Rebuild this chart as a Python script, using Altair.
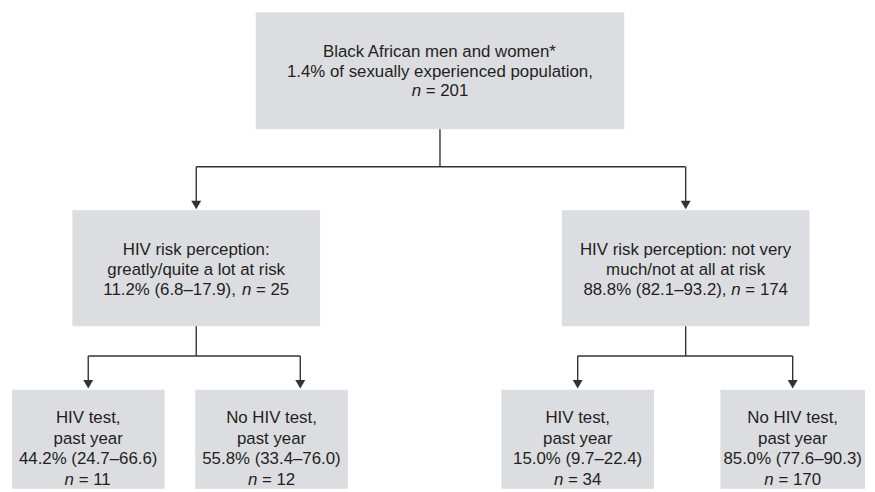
import altair as alt
import pandas as pd

# ---------------- data (text content of the tree) ----------------
titles = [
    ["Black African men and women*"],
    ["HIV risk perception:", "greatly/quite a lot at risk"],
    ["HIV risk perception: not very", "much/not at all at risk"],
    ["HIV test,", "past year"],
    ["No HIV test,", "past year"],
    ["HIV test,", "past year"],
    ["No HIV test,", "past year"],
]
root_note = "of sexually experienced population,"
pct = [1.4, 11.2, 88.8, 44.2, 55.8, 15.0, 85.0]
ci_lo = [None, 6.8, 82.1, 24.7, 33.4, 9.7, 77.6]
ci_hi = [None, 17.9, 93.2, 66.6, 76.0, 22.4, 90.3]
n_vals = [201, 25, 174, 11, 12, 34, 170]
parent = [None, 0, 0, 1, 1, 2, 2]
level = [0, 1, 1, 2, 2, 2, 2]

# ---------------- layout (pixel space of the 875x492 page) ----------------
level_top = [10, 210, 391]
level_bot = [128, 327, 491]
bus_y = [166, 357]
node_cx = [444, 198, 692, 89, 274, 583, 800]
node_w = [372, 250, 250, 154, 154, 154, 146]
arrow_x = [None, 198, 692, 89, 303, 583, 800]
text_y0 = [50, 250, 420]
line_h = [20, 20, 20.7]
font_size = [17, 17, 17]

# Arial / Liberation Sans advance widths (per 1000 em)
W = {" ": 278, "%": 889, "(": 333, ")": 333, "*": 389, ",": 278, ".": 278,
     "/": 278, ":": 278, "=": 584, "–": 556, "A": 667, "B": 667, "H": 722,
     "I": 278, "N": 722, "V": 667, "a": 556, "b": 556, "c": 500, "d": 556,
     "e": 556, "f": 278, "g": 556, "h": 556, "i": 222, "k": 500, "l": 222,
     "m": 833, "n": 556, "o": 556, "p": 556, "q": 556, "r": 333, "s": 500,
     "t": 278, "u": 556, "v": 500, "w": 722, "x": 500, "y": 500}


def tw(s, fs):
    return sum(W.get(c, 556) for c in s) * fs / 1000.0


def fmt(v):
    return f"{v:.1f}"


def node_lines(i):
    """Return list of lines; each line is a list of (text, italic)."""
    lines = [[(t, False)] for t in titles[i]]
    nseg = [("n", True), ("= " + str(n_vals[i]), False)]
    if level[i] == 0:
        lines.append([(fmt(pct[i]) + "% " + root_note, False)])
        lines.append(nseg)
    elif level[i] == 1:
        lines.append([(f"{fmt(pct[i])}% ({fmt(ci_lo[i])}–{fmt(ci_hi[i])}),", False)] + nseg)
    else:
        lines.append([(f"{fmt(pct[i])}% ({fmt(ci_lo[i])}–{fmt(ci_hi[i])})", False)])
        lines.append(nseg)
    return lines


# boxes
boxes = pd.DataFrame({
    "x": [c - w / 2 for c, w in zip(node_cx, node_w)],
    "x2": [c + w / 2 for c, w in zip(node_cx, node_w)],
    "y": [level_top[l] for l in level],
    "y2": [level_bot[l] for l in level],
})

# text segments
segs = []
for i in range(len(titles)):
    lv = level[i]
    fs = font_size[lv]
    for k, line in enumerate(node_lines(i)):
        parts_w = [tw(t, fs) for t, _ in line]
        total = sum(parts_w) + tw(" ", fs) * (len(line) - 1)
        x = node_cx[i] - total / 2
        y = text_y0[lv] + k * line_h[lv]
        for (t, it), pw in zip(line, parts_w):
            segs.append({"x": x, "y": y, "text": t, "italic": it, "fs": fs})
            x += pw + tw(" ", fs)
segs = pd.DataFrame(segs)

# connectors
rules = []
arrows = []
for p in sorted(set(q for q in parent if q is not None)):
    kids = [i for i, q in enumerate(parent) if q == p]
    lv = level[p]
    by = bus_y[lv]
    rules.append({"x": node_cx[p], "x2": node_cx[p], "y": level_bot[lv], "y2": by})
    xs = [arrow_x[k] for k in kids]
    rules.append({"x": min(xs), "x2": max(xs), "y": by, "y2": by})
    for k in kids:
        tip = level_top[level[k]] - 1
        rules.append({"x": arrow_x[k], "x2": arrow_x[k], "y": by, "y2": tip - 6})
        arrows.append({"x": arrow_x[k], "y": tip - 4.5})
rules = pd.DataFrame(rules)
arrows = pd.DataFrame(arrows)

xs = alt.Scale(domain=[8, 875], range=[0, 867])
ys = alt.Scale(domain=[8, 492], range=[0, 484])
X = lambda f: alt.X(f, type="quantitative", scale=xs, axis=None)
Y = lambda f: alt.Y(f, type="quantitative", scale=ys, axis=None)

box_layer = alt.Chart(boxes).mark_rect(color="#dcdde0").encode(
    x=X("x"), x2="x2", y=Y("y"), y2="y2")

rule_layer = alt.Chart(rules).mark_rule(color="#333333", strokeWidth=1.4).encode(
    x=X("x"), x2="x2", y=Y("y"), y2="y2")

arrow_layer = alt.Chart(arrows).mark_point(
    shape="triangle-down", filled=True, color="#333333", size=100, opacity=1
).encode(x=X("x"), y=Y("y"))

text_common = dict(font="Liberation Sans", color="#231f20",
                   align="left", baseline="middle")
size_enc = alt.Size("fs:Q", scale=None, legend=None)
text_reg = alt.Chart(segs).transform_filter("!datum.italic").mark_text(
    **text_common).encode(x=X("x"), y=Y("y"), text="text:N",
                          size=size_enc)
text_it = alt.Chart(segs).transform_filter("datum.italic").mark_text(
    fontStyle="italic", **text_common).encode(x=X("x"), y=Y("y"), text="text:N",
                                              size=size_enc)

chart = alt.layer(box_layer, rule_layer, arrow_layer, text_reg, text_it).properties(
    width=867, height=484, padding=0, background="white"
).configure_view(strokeWidth=0)

chart.save("out.html", embed_options={"renderer": "svg", "actions": False})
